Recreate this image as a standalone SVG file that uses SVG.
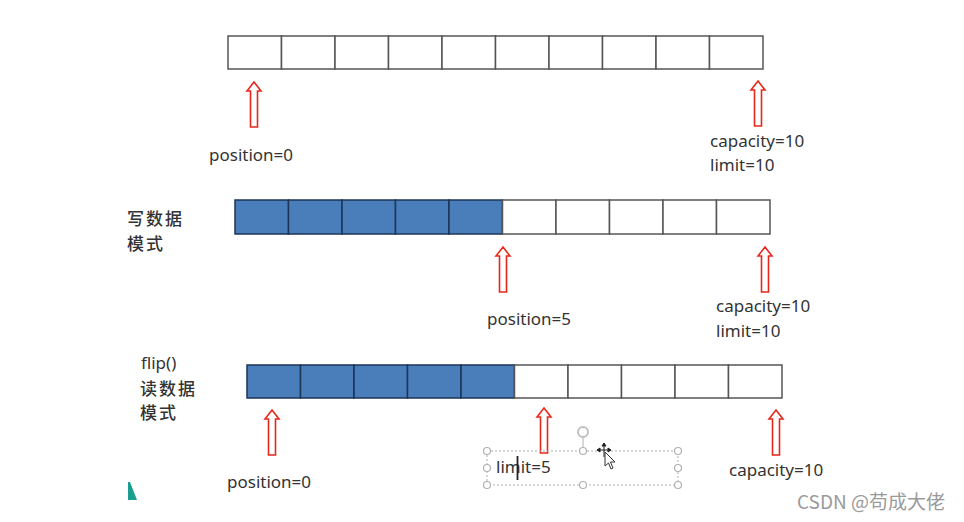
<svg xmlns="http://www.w3.org/2000/svg" xmlns:xlink="http://www.w3.org/1999/xlink" width="964" height="522" viewBox="0 0 964 522">
<style>
.cell{fill:#ffffff;stroke:#555555;stroke-width:1.5}
.blue{fill:#4a7ebb;stroke:#1d3557;stroke-width:1.5}
.t{font-family:"Noto Sans","Open Sans","Liberation Sans",sans-serif;font-size:17px;fill:#333333}
.cn{font-family:"Noto Sans CJK SC","Noto Sans",sans-serif;font-size:17px;fill:#333333;letter-spacing:2px;font-weight:500}
.arr{fill:#ffffff;stroke:#e8271c;stroke-width:1.6;stroke-linejoin:miter}
.sel{fill:none;stroke:#b0b0b0;stroke-width:1;stroke-dasharray:2 2}
.hd{fill:#ffffff;stroke:#b0b0b0;stroke-width:1.2}
.wm{font-family:"Noto Sans CJK SC","Noto Sans",sans-serif;font-size:19px;fill:#9a9a9a}
</style>
<defs>
<path id="up" class="arr" d="M0,0 L7,9 L3.5,9 L3.5,45 L-3.5,45 L-3.5,9 L-7,9 Z"/>
</defs>
<rect width="964" height="522" fill="#ffffff"/>

<g id="row1">
<rect class="cell" x="228" y="36" width="53.5" height="33"/>
<rect class="cell" x="281.5" y="36" width="53.5" height="33"/>
<rect class="cell" x="335" y="36" width="53.5" height="33"/>
<rect class="cell" x="388.5" y="36" width="53.5" height="33"/>
<rect class="cell" x="442" y="36" width="53.5" height="33"/>
<rect class="cell" x="495.5" y="36" width="53.5" height="33"/>
<rect class="cell" x="549" y="36" width="53.5" height="33"/>
<rect class="cell" x="602.5" y="36" width="53.5" height="33"/>
<rect class="cell" x="656" y="36" width="53.5" height="33"/>
<rect class="cell" x="709.5" y="36" width="53.5" height="33"/>
</g>

<g id="row2">
<text class="cn" x="127" y="225">写数据</text>
<text class="cn" x="127" y="250">模式</text>
<rect class="blue" x="235" y="200" width="53.5" height="34"/>
<rect class="blue" x="288.5" y="200" width="53.5" height="34"/>
<rect class="blue" x="342" y="200" width="53.5" height="34"/>
<rect class="blue" x="395.5" y="200" width="53.5" height="34"/>
<rect class="blue" x="449" y="200" width="53.5" height="34"/>
<rect class="cell" x="502.5" y="200" width="53.5" height="34"/>
<rect class="cell" x="556" y="200" width="53.5" height="34"/>
<rect class="cell" x="609.5" y="200" width="53.5" height="34"/>
<rect class="cell" x="663" y="200" width="53.5" height="34"/>
<rect class="cell" x="716.5" y="200" width="53.5" height="34"/>
</g>

<g id="row3">
<text class="t" x="141" y="369">flip()</text>
<text class="cn" x="140" y="395">读数据</text>
<text class="cn" x="140" y="419">模式</text>
<rect class="blue" x="247" y="365" width="53.5" height="33"/>
<rect class="blue" x="300.5" y="365" width="53.5" height="33"/>
<rect class="blue" x="354" y="365" width="53.5" height="33"/>
<rect class="blue" x="407.5" y="365" width="53.5" height="33"/>
<rect class="blue" x="461" y="365" width="53.5" height="33"/>
<rect class="cell" x="514.5" y="365" width="53.5" height="33"/>
<rect class="cell" x="568" y="365" width="53.5" height="33"/>
<rect class="cell" x="621.5" y="365" width="53.5" height="33"/>
<rect class="cell" x="675" y="365" width="53.5" height="33"/>
<rect class="cell" x="728.5" y="365" width="53.5" height="33"/>
</g>

<g id="connectors">
<use xlink:href="#up" x="254" y="82"/>
<use xlink:href="#up" x="758" y="81"/>
<use xlink:href="#up" x="503" y="247"/>
<use xlink:href="#up" x="765" y="247"/>
<use xlink:href="#up" x="272" y="410"/>
<use xlink:href="#up" x="544" y="408"/>
<use xlink:href="#up" x="776" y="410"/>
</g>

<g id="labels1">
<text class="t" x="209" y="161">position=0</text>
<text class="t" x="710" y="147">capacity=10</text>
<text class="t" x="710" y="171">limit=10</text>
</g>
<g id="labels2">
<text class="t" x="487" y="325">position=5</text>
<text class="t" x="716" y="312">capacity=10</text>
<text class="t" x="716" y="337">limit=10</text>
</g>
<g id="labels3">
<text class="t" x="227" y="488">position=0</text>
<text class="t" x="729" y="476">capacity=10</text>
</g>

<g id="limit-box">
<rect class="sel" x="487" y="451" width="191" height="34"/>
<line x1="583" y1="437" x2="583" y2="451" stroke="#b0b0b0" stroke-width="1"/>
<circle cx="583" cy="432" r="5" fill="none" stroke="#c0c0c0" stroke-width="2"/>
<circle class="hd" cx="487" cy="451" r="3.5"/>
<circle class="hd" cx="583" cy="451" r="3.5"/>
<circle class="hd" cx="678" cy="451" r="3.5"/>
<circle class="hd" cx="487" cy="468" r="3.5"/>
<circle class="hd" cx="678" cy="468" r="3.5"/>
<circle class="hd" cx="487" cy="485" r="3.5"/>
<circle class="hd" cx="583" cy="485" r="3.5"/>
<circle class="hd" cx="678" cy="485" r="3.5"/>
<text class="t" x="496" y="473">limit=5</text>
<line x1="517.5" y1="456" x2="517.5" y2="480" stroke="#222222" stroke-width="1.8"/>
<g id="cursor" stroke="#222222" stroke-width="1">
<line x1="597" y1="450" x2="611" y2="450"/>
<line x1="604" y1="443" x2="604" y2="457"/>
<path d="M597,450 l3,-2 v4 z M611,450 l-3,-2 v4 z M604,443 l-2,3 h4 z" fill="#222222"/>
<path d="M605,452 L605,466 L608.5,463 L611,469 L613,468 L610.5,462 L615,462 Z" fill="#ffffff" stroke="#333333"/>
</g>
</g>

<polygon points="128,482 130,482 137,500 128,500" fill="#1a9e8f"/>
<text class="wm" x="797" y="509">CSDN @苟成大佬</text>
</svg>
